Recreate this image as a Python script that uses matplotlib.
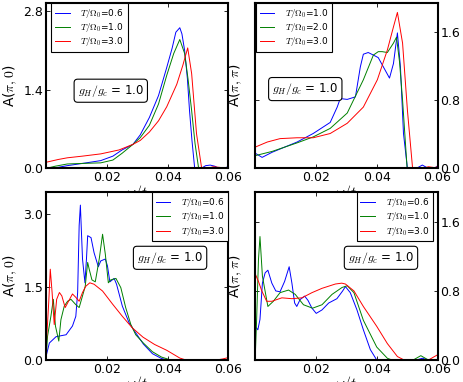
import matplotlib
matplotlib.use('Agg')
import matplotlib.pyplot as plt
from matplotlib.ticker import FormatStrFormatter

# ---- data (omega/t vs spectral weight) ----
# top left: A(pi,0)
tl_x_06 = [0, 0.004, 0.007, 0.012, 0.018, 0.022, 0.025, 0.0286, 0.031, 0.034, 0.037, 0.0397, 0.0415,
           0.0427, 0.0440, 0.0447, 0.0456, 0.0465, 0.0472, 0.048, 0.0489, 0.051, 0.0525, 0.054, 0.0555,
           0.057, 0.059, 0.060]
tl_y_06 = [0, 0.02, 0.05, 0.09, 0.14, 0.22, 0.33, 0.43, 0.60, 0.91, 1.30, 1.80, 2.15,
           2.43, 2.51, 2.40, 2.10, 1.60, 1.03, 0.50, 0.0, 0.0, 0.05, 0.06, 0.04,
           0.0, 0.0, 0.05]
tl_x_10 = [0, 0.003, 0.007, 0.012, 0.018, 0.022, 0.025, 0.0286, 0.031, 0.034, 0.037, 0.0397, 0.042,
           0.044, 0.0456, 0.0467, 0.0479, 0.049, 0.0502, 0.060]
tl_y_10 = [0, 0.04, 0.08, 0.09, 0.10, 0.15, 0.27, 0.43, 0.55, 0.77, 1.15, 1.66, 2.05,
           2.30, 2.05, 1.60, 1.03, 0.45, 0.0, 0.0]
tl_x_30 = [0, 0.004, 0.007, 0.012, 0.018, 0.024, 0.0286, 0.031, 0.034, 0.037, 0.0397, 0.043, 0.045,
           0.0466, 0.0479, 0.0487, 0.0495, 0.0512, 0.053, 0.055, 0.057, 0.060]
tl_y_30 = [0.11, 0.16, 0.19, 0.22, 0.26, 0.33, 0.43, 0.50, 0.65, 0.85, 1.10, 1.50, 1.84,
           2.15, 1.69, 1.15, 0.62, 0.0, 0.0, 0.03, 0.02, 0.0]

# top right: A(pi,pi)
tr_x_10 = [0, 0.0023, 0.0056, 0.009, 0.0138, 0.0191, 0.0247, 0.027, 0.028, 0.0303, 0.033, 0.0346,
           0.0356, 0.0372, 0.0389, 0.0405, 0.0422, 0.0442, 0.0455, 0.0468, 0.0478, 0.0488, 0.0501,
           0.053, 0.055, 0.057, 0.059, 0.060]
tr_y_10 = [0.18, 0.13, 0.19, 0.24, 0.31, 0.41, 0.54, 0.72, 0.82, 0.81, 0.84, 1.19,
           1.34, 1.36, 1.33, 1.30, 1.19, 1.06, 1.23, 1.59, 1.19, 0.41, 0.0,
           0.0, 0.04, 0.0, 0.0, 0.03]
tr_x_20 = [0, 0.0056, 0.0138, 0.0191, 0.0247, 0.0303, 0.0356, 0.0389, 0.0405, 0.0418, 0.0435, 0.0455,
           0.0465, 0.0475, 0.0485, 0.050, 0.060]
tr_y_20 = [0.15, 0.20, 0.30, 0.37, 0.47, 0.65, 1.04, 1.33, 1.37, 1.37, 1.36, 1.47,
           1.54, 1.25, 0.80, 0.0, 0.0]
tr_x_30 = [0, 0.004, 0.0082, 0.0138, 0.0191, 0.0247, 0.0303, 0.0356, 0.0402, 0.0435, 0.0455, 0.0468,
           0.0485, 0.0501, 0.0518, 0.055, 0.057, 0.059, 0.060]
tr_y_30 = [0.25, 0.31, 0.35, 0.36, 0.36, 0.41, 0.53, 0.72, 1.04, 1.39, 1.66, 1.83,
           1.47, 0.68, 0.0, 0.0, 0.02, 0.01, 0.02]

# bottom left: A(pi,0)
bl_x_06 = [0, 0.0011, 0.0033, 0.0066, 0.0087, 0.0098, 0.0104, 0.0109, 0.0113, 0.012, 0.0128, 0.0133,
           0.0137, 0.0148, 0.0158, 0.0172, 0.018, 0.0195, 0.0202, 0.021, 0.0224, 0.0232, 0.0251,
           0.0273, 0.0295, 0.032, 0.035, 0.038, 0.040, 0.060]
bl_y_06 = [0.07, 0.35, 0.48, 0.52, 0.70, 0.90, 1.39, 2.77, 3.19, 2.08, 1.59, 2.08,
           2.56, 2.52, 2.21, 1.92, 2.04, 2.08, 1.94, 1.61, 1.68, 1.56, 1.11,
           0.77, 0.56, 0.33, 0.13, 0.03, 0.0, 0.0]
bl_x_10 = [0, 0.0005, 0.0016, 0.0024, 0.0031, 0.0042, 0.0049, 0.006, 0.0071, 0.0082, 0.0098, 0.0109,
           0.012, 0.0129, 0.0137, 0.0142, 0.0151, 0.0162, 0.0175, 0.0186, 0.0195, 0.0205, 0.0213,
           0.023, 0.0246, 0.0262, 0.0279, 0.0295, 0.032, 0.035, 0.038, 0.041, 0.060]
bl_y_10 = [0.0, 0.49, 0.90, 1.25, 0.70, 0.39, 0.83, 1.11, 1.21, 1.25, 1.14, 1.08,
           1.32, 1.52, 2.01, 1.87, 1.65, 1.61, 2.08, 2.59, 2.18, 1.59, 1.65,
           1.68, 1.49, 1.08, 0.73, 0.52, 0.35, 0.17, 0.06, 0.0, 0.0]
bl_x_30 = [0, 0.0009, 0.0014, 0.002, 0.0027, 0.0035, 0.0044, 0.0052, 0.0063, 0.0074, 0.0087, 0.0098,
           0.0109, 0.012, 0.0131, 0.0144, 0.0158, 0.0186, 0.0219, 0.0251, 0.0284, 0.0319, 0.0357,
           0.0397, 0.044, 0.046, 0.056, 0.058, 0.060]
bl_y_30 = [0.21, 1.20, 1.87, 1.39, 0.73, 1.25, 1.39, 1.32, 1.08, 1.21, 1.36, 1.29,
           1.21, 1.39, 1.52, 1.59, 1.56, 1.42, 1.15, 0.90, 0.66, 0.47, 0.32,
           0.20, 0.04, 0.0, 0.0, 0.02, 0.05]

# bottom right: A(pi,pi)
br_x_06 = [0, 0.0009, 0.0016, 0.0024, 0.0033, 0.0042, 0.0055, 0.0068, 0.0082, 0.0097, 0.0112, 0.0121,
           0.013, 0.0137, 0.0148, 0.0163, 0.0174, 0.0187, 0.0201, 0.022, 0.0242, 0.0269, 0.0288,
           0.0297, 0.0313, 0.0335, 0.0356, 0.0379, 0.040, 0.053, 0.055, 0.057, 0.060]
br_y_06 = [0.39, 0.35, 0.47, 0.89, 1.01, 1.04, 0.89, 0.80, 0.79, 0.91, 1.08, 0.89,
           0.66, 0.62, 0.70, 0.74, 0.69, 0.60, 0.54, 0.58, 0.66, 0.71, 0.80,
           0.85, 0.78, 0.58, 0.35, 0.12, 0.0, 0.0, 0.02, 0.0, 0.0]
br_x_10 = [0, 0.0005, 0.0011, 0.0016, 0.0024, 0.0042, 0.006, 0.0082, 0.011, 0.0132, 0.0159, 0.0189,
           0.022, 0.0253, 0.0286, 0.0303, 0.0325, 0.0356, 0.040, 0.0435, 0.045, 0.052, 0.0545,
           0.057, 0.060]
br_y_10 = [0.0, 0.47, 1.16, 1.43, 0.97, 0.62, 0.68, 0.78, 0.81, 0.76, 0.64, 0.60,
           0.64, 0.76, 0.84, 0.86, 0.78, 0.46, 0.15, 0.02, 0.0, 0.0, 0.05,
           0.0, 0.0]
br_x_30 = [0, 0.0011, 0.0022, 0.0038, 0.0055, 0.0088, 0.0121, 0.0154, 0.0187, 0.022, 0.0264, 0.0285,
           0.0297, 0.0325, 0.0356, 0.040, 0.0435, 0.0468, 0.049, 0.057, 0.060]
br_y_30 = [1.0, 0.91, 0.80, 0.68, 0.68, 0.72, 0.71, 0.72, 0.78, 0.83, 0.88, 0.89,
           0.88, 0.80, 0.62, 0.39, 0.19, 0.04, 0.0, 0.0, 0.06]

labels_a = ['$T/\\Omega_0$=0.6', '$T/\\Omega_0$=1.0', '$T/\\Omega_0$=3.0']
labels_b = ['$T/\\Omega_0$=1.0', '$T/\\Omega_0$=2.0', '$T/\\Omega_0$=3.0']
x_ticks = [0.02, 0.04, 0.06]

plt.rcParams['mathtext.fontset'] = 'cm'
plt.rcParams['font.family'] = ['DejaVu Sans']

colors = ['#0000ff', '#008000', '#ff0000']


def draw_panel(rect, curves, labels, ylabel, ymax, yticks, right, leg_loc, leg_anchor, box_xy):
    ax = fig.add_axes(rect)
    for (xs, ys), c, lab in zip(curves, colors, labels):
        ax.plot(xs, ys, color=c, lw=0.7, label=lab)
    ax.set_xlim(0, 0.06)
    ax.set_ylim(0, ymax)
    ax.set_xticks(x_ticks)
    ax.set_yticks(yticks)
    ax.yaxis.set_major_formatter(FormatStrFormatter('%.1f'))
    ax.tick_params(direction='in', length=3, width=0.6, labelsize=9, pad=2,
                   top=True, bottom=True, left=True, right=True)
    if right:
        ax.tick_params(axis='y', labelleft=False, labelright=True)
    for s in ax.spines.values():
        s.set_linewidth(1.5)
    ax.set_xlabel('$\\omega/t$', fontsize=10, labelpad=-1)
    ax.set_ylabel(ylabel, fontsize=10)
    ax.yaxis.set_label_coords(-0.06 if right else -0.15, 0.5)
    leg = ax.legend(loc=leg_loc, bbox_to_anchor=leg_anchor, fontsize=6.5, borderaxespad=0,
                    handlelength=1.6, handletextpad=1.2, labelspacing=0.15, borderpad=0.4,
                    fancybox=False, framealpha=1)
    leg.get_frame().set_edgecolor('black')
    leg.get_frame().set_linewidth(0.8)
    ax.text(box_xy[0], box_xy[1], '$g_H/g_c$ = 1.0', transform=ax.transAxes, fontsize=8.5,
            ha='center', va='center',
            bbox=dict(boxstyle='round,pad=0.3', fc='white', ec='black', lw=0.8))
    return ax


fig = plt.figure(figsize=(4.63, 3.82), dpi=100)

left_x, right_x, width = 0.0994, 0.551, 0.394
top_y, top_h = 0.559, 0.433
bot_y, bot_h = 0.0576, 0.4385

# top panels first so the lower axes hide their x labels, as in the source figure
draw_panel([left_x, top_y, width, top_h],
           [(tl_x_06, tl_y_06), (tl_x_10, tl_y_10), (tl_x_30, tl_y_30)], labels_a,
           'A($\\pi,0$)', 2.95, [0.0, 1.4, 2.8], False, 'upper left', (0.03, 1.0), (0.355, 0.47))
draw_panel([right_x, top_y, width, top_h],
           [(tr_x_10, tr_y_10), (tr_x_20, tr_y_20), (tr_x_30, tr_y_30)], labels_b,
           'A($\\pi,\\pi$)', 1.94, [0.0, 0.8, 1.6], True, 'upper left', (0.005, 1.0), (0.275, 0.48))
draw_panel([left_x, bot_y, width, bot_h],
           [(bl_x_06, bl_y_06), (bl_x_10, bl_y_10), (bl_x_30, bl_y_30)], labels_a,
           'A($\\pi,0$)', 3.45, [0.0, 1.5, 3.0], False, 'upper right', (1.0, 1.0), (0.68, 0.61))
draw_panel([right_x, bot_y, width, bot_h],
           [(br_x_06, br_y_06), (br_x_10, br_y_10), (br_x_30, br_y_30)], labels_a,
           'A($\\pi,\\pi$)', 1.94, [0.0, 0.8, 1.6], True, 'upper right', (0.975, 1.0), (0.69, 0.61))

fig.savefig('out.png', dpi=100)
